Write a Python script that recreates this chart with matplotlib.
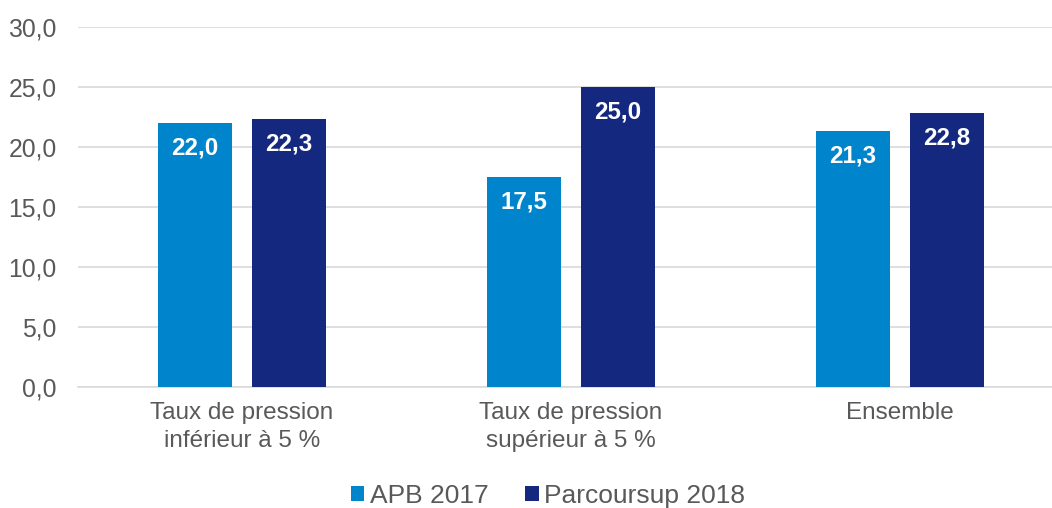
import matplotlib
matplotlib.use("Agg")
import matplotlib.pyplot as plt
from matplotlib.ticker import MultipleLocator, FuncFormatter
from matplotlib.patches import Patch
import numpy as np

plt.rcParams['font.family'] = ['Liberation Sans', 'DejaVu Sans']

categories = ["Taux de pression\ninférieur à 5 %",
              "Taux de pression\nsupérieur à 5 %",
              "Ensemble"]
series_names = ["APB 2017", "Parcoursup 2018"]
apb_2017 = [22.0, 17.5, 21.3]
parcoursup_2018 = [22.3, 25.0, 22.8]
colors = ["#0084CC", "#14287F"]

grey = "#595959"

fig = plt.figure(figsize=(10.52, 5.08), dpi=100)
ax = fig.add_axes([77.5 / 1052, 121 / 508, 987 / 1052, 360 / 508])

x = np.arange(len(categories))
bw = 0.225
offset = 0.143

for vals, off, col in zip([apb_2017, parcoursup_2018], [-offset, offset], colors):
    bars = ax.bar(x + off, vals, width=bw, color=col, zorder=3)
    for b, v in zip(bars, vals):
        ax.annotate(f"{v:.1f}".replace(".", ","),
                    (b.get_x() + b.get_width() / 2, v),
                    xytext=(0, -25), textcoords="offset pixels",
                    ha="center", va="center", color="white",
                    fontsize=17.4, fontweight="bold", zorder=4)

ax.set_xlim(-0.5, len(categories) - 0.5)
ax.set_ylim(0, 30)
ax.yaxis.set_major_locator(MultipleLocator(5))
ax.yaxis.set_major_formatter(FuncFormatter(lambda v, p: f"{v:.1f}".replace(".", ",")))
ax.grid(axis="y", color="#D9D9D9", linewidth=1.2, zorder=0)
ax.set_axisbelow(True)

for s in ["top", "right", "left"]:
    ax.spines[s].set_visible(False)
ax.spines["bottom"].set_color("#D9D9D9")
ax.spines["bottom"].set_linewidth(1.2)

ax.set_xticks(x)
ax.set_xticklabels(categories, fontsize=17.5, color=grey, linespacing=1.32)
ax.tick_params(axis="x", length=0, pad=11)
ax.tick_params(axis="y", length=0, pad=15, labelsize=17.8, labelcolor=grey)

handles = [Patch(facecolor=c, label=n) for c, n in zip(colors, series_names)]
fig.legend(handles=handles, loc="center", bbox_to_anchor=(548 / 1052, 1 - 496 / 508),
           ncol=2, frameon=False, fontsize=19, labelcolor=grey,
           handlelength=0.5, handleheight=0.5, handletextpad=0.2, columnspacing=1.4,
           borderpad=0)

fig.savefig("out.png", dpi=100)
